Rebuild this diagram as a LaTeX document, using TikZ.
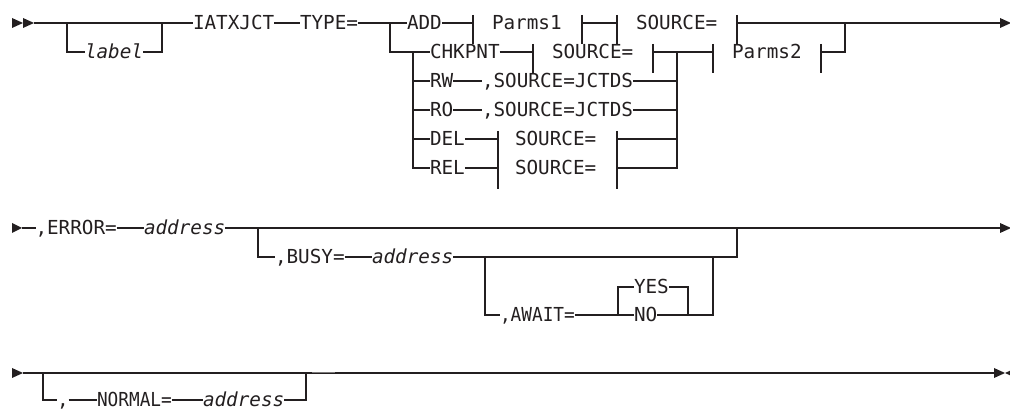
\documentclass[tikz,border=0pt]{standalone}
\usepackage{fontspec}
\newfontfamily\monofam{DejaVu Sans Mono}
\newfontfamily\narrowfam[FakeStretch=0.92]{DejaVu Sans Mono}
\definecolor{ink}{HTML}{231F20}
\tikzset{
  ln/.style={line width=1.2pt, draw=ink},
  kw/.style={inner sep=0pt, outer sep=0pt, text height=14pt, text depth=0pt, anchor=west,
             text=ink, font=\monofam\fontsize{19.3}{23}\selectfont},
  var/.style={kw, font=\monofam\itshape\fontsize{19.3}{23}\selectfont},
  narrowkw/.style={kw, font=\narrowfam\fontsize{19.3}{23}\selectfont},
  ftick/.pic={\draw[ln] (0,-8) -- (0,21);},
  tipfill/.style={fill=ink, draw=none}
}
\begin{document}
\begin{tikzpicture}[x=1pt,y=-1pt]
\useasboundingbox (0,0) rectangle (1010,411);

% ===================== Row 1 =====================
\fill[tipfill] (12,18) -- (23,23) -- (12,28) -- cycle;
\fill[tipfill] (23,18) -- (34,23) -- (23,28) -- cycle;
\coordinate (s1) at (34,23);
\coordinate (lbL) at (67,23);
\coordinate (lbR) at (162,23);
\node[var] (label) at (85,52) {label};
\node[kw] (iat) at (193,23) {IATXJCT};
\node[kw] (type) at (300,23) {TYPE=};
\draw[ln] (s1) -- (iat.west);
\draw[ln] (lbL) |- (label.west);
\draw[ln] (label.east) -| (lbR);
\draw[ln] (iat.east) -- (type.west);

\coordinate (b1) at (390,23);
\coordinate (b2) at (413,52);
\node[kw] (add) at (407,23) {ADD};
\node[kw] (p1) at (492,23) {Parms1};
\node[kw] (src1) at (636,23) {SOURCE=};
\coordinate (tA1) at (473,23);
\coordinate (tA2) at (582,23);
\coordinate (tA3) at (617,23);
\coordinate (tA4) at (737,23);
\coordinate (j1) at (845,23);
\coordinate (end1) at (1000,23);
\draw[ln] (type.east) -- (add.west);
\draw[ln] (add.east) -- (tA1);
\draw[ln] (tA2) -- (tA3);
\draw[ln] (tA4) -- (j1) -- (end1);
\foreach \t in {tA1,tA2,tA3,tA4} \pic at (\t) {ftick};
\fill[tipfill] (1000,18) -- (1011,23) -- (1000,28) -- cycle;

% CHKPNT row
\node[kw] (chk) at (430,52) {CHKPNT};
\node[kw] (src2) at (552,52) {SOURCE=};
\node[kw] (p2) at (732,52) {Parms2};
\coordinate (tB1) at (533,52);
\coordinate (tB2) at (653,52);
\coordinate (jR) at (677,52);
\coordinate (tB3) at (713,52);
\coordinate (tB4) at (821,52);
\draw[ln] (b1) |- (chk.west);
\draw[ln] (chk.east) -- (tB1);
\draw[ln] (tB2) -- (tB3);
\draw[ln] (tB4) -| (j1);
\foreach \t in {tB1,tB2,tB3,tB4} \pic at (\t) {ftick};

% RW / RO rows
\node[kw] (rw) at (430,81) {RW};
\node[kw] (rwsrc) at (482,81) {,SOURCE=JCTDS};
\node[kw] (ro) at (430,110) {RO};
\node[kw] (rosrc) at (482,110) {,SOURCE=JCTDS};
\draw[ln] (b2) |- (rw.west);
\draw[ln] (rw.east) -- (rwsrc.west);
\draw[ln] (rwsrc.east) -| (jR);
\draw[ln] (b2) |- (ro.west);
\draw[ln] (ro.east) -- (rosrc.west);
\draw[ln] (rosrc.east) -| (jR);

% DEL / REL rows
\node[kw] (del) at (430,139) {DEL};
\node[kw] (delsrc) at (515,139) {SOURCE=};
\node[kw] (rel) at (430,168) {REL};
\node[kw] (relsrc) at (515,168) {SOURCE=};
\coordinate (tE1) at (498,139);
\coordinate (tE2) at (617,139);
\coordinate (tF1) at (498,168);
\coordinate (tF2) at (617,168);
\draw[ln] (b2) |- (del.west);
\draw[ln] (del.east) -- (tE1);
\draw[ln] (tE2) -| (jR);
\draw[ln] (b2) |- (rel.west);
\draw[ln] (rel.east) -- (tF1);
\draw[ln] (tF2) -| (jR);
\foreach \t in {tE1,tE2,tF1,tF2} \pic at (\t) {ftick};

% ===================== Row 2 =====================
\fill[tipfill] (12,223) -- (22,228) -- (12,233) -- cycle;
\coordinate (s2) at (22,228);
\node[kw] (err) at (35.5,228) {,ERROR=};
\node[var] (addr1) at (144,228) {address};
\coordinate (end2) at (1000,228);
\draw[ln] (s2) -- (err.west);
\draw[ln] (err.east) -- (addr1.west);
\draw[ln] (addr1.east) -- (end2);
\fill[tipfill] (1000,223) -- (1011,228) -- (1000,233) -- cycle;

\coordinate (bL) at (258,228);
\coordinate (bR) at (737,228);
\node[kw] (busy) at (275,257) {,BUSY=};
\node[var] (addr2) at (372,257) {address};
\draw[ln] (bL) |- (busy.west);
\draw[ln] (busy.east) -- (addr2.west);
\draw[ln] (addr2.east) -| (bR);

\coordinate (aL) at (485,257);
\coordinate (aR) at (713,257);
\node[narrowkw] (await) at (500,315) {,AWAIT=};
\coordinate (yL) at (618,315);
\coordinate (yR) at (688,315);
\node[kw] (yes) at (634,287) {YES};
\node[kw] (no) at (634,315) {NO};
\draw[ln] (aL) |- (await.west);
\draw[ln] (await.east) -- (no.west);
\draw[ln] (no.east) -| (aR);
\draw[ln] (yL) |- (yes.west);
\draw[ln] (yes.east) -| (yR);

% ===================== Row 3 =====================
\fill[tipfill] (12,368) -- (23,373) -- (12,378) -- cycle;
\coordinate (s3) at (23,373);
\coordinate (end3) at (994,373);
\draw[ln] (s3) -- (end3);
\fill[tipfill] (994,368) -- (1005,373) -- (994,378) -- cycle;
\fill[tipfill] (1016,368) -- (1005,373) -- (1016,378) -- cycle;

\coordinate (nL) at (43,373);
\coordinate (nR) at (306,373);
\node[kw] (comma) at (57,400) {,};
\node[narrowkw] (normal) at (97,400) {NORMAL=};
\node[var] (addr3) at (203,400) {address};
\draw[ln] (nL) |- (comma.west);
\draw[ln] (comma.east) -- (normal.west);
\draw[ln] (normal.east) -- (addr3.west);
\draw[ln] (addr3.east) -| (nR);
\draw[line width=1.6pt, draw=ink!60] (312,372.5) -- (335,372.5);
\end{tikzpicture}
\end{document}
